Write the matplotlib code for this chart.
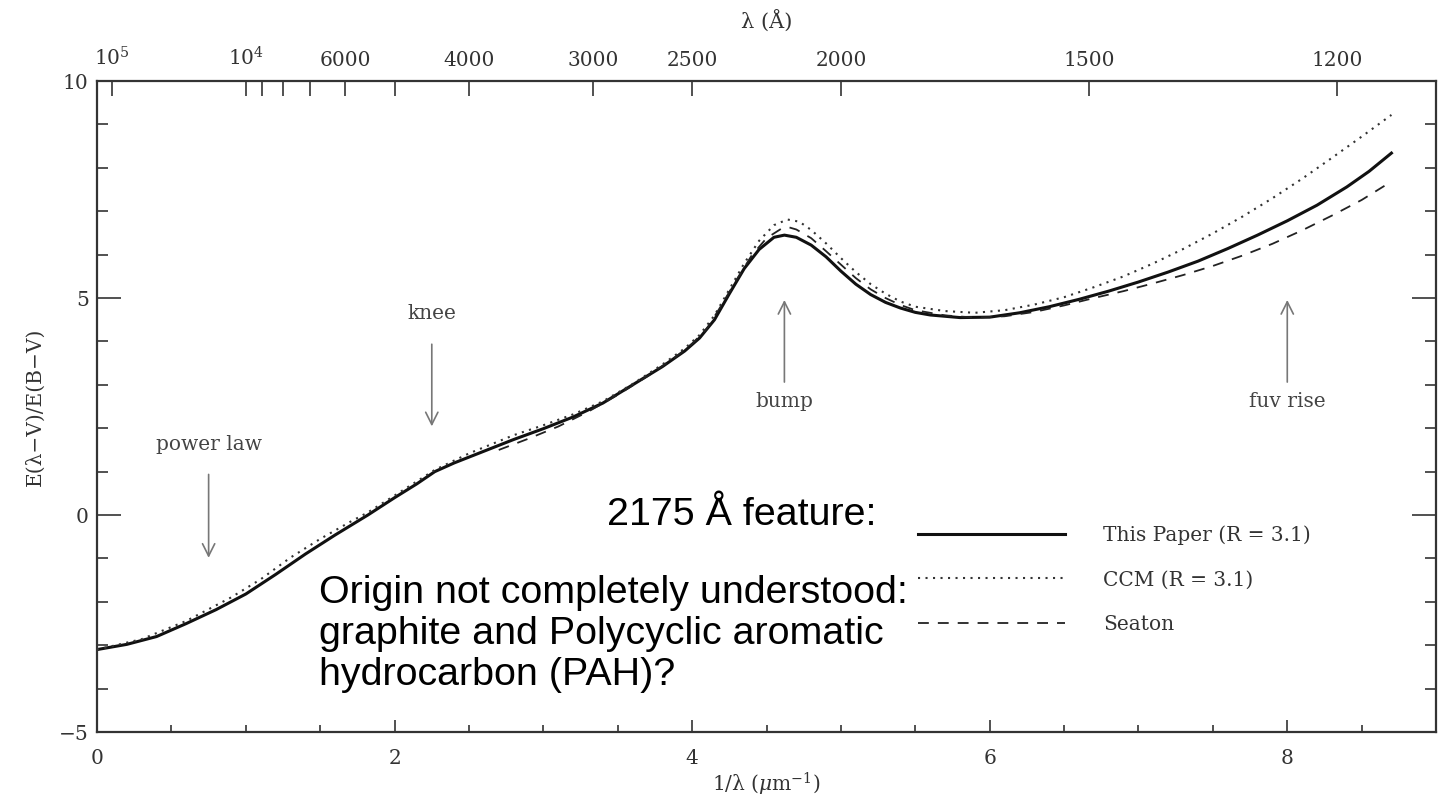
import matplotlib
matplotlib.use('Agg')
import matplotlib.pyplot as plt
import numpy as np

plt.rcParams['font.family'] = ['DejaVu Serif']
plt.rcParams['mathtext.fontset'] = 'dejavuserif'

# E(lambda-V)/E(B-V), x = 1/lambda (um^-1)
x_paper = [0.0, 0.2, 0.4, 0.6, 0.8, 1.0, 1.2, 1.4, 1.6, 1.82, 2.0, 2.15, 2.27,
           2.4, 2.6, 2.8, 3.0, 3.2, 3.4, 3.6, 3.8, 3.95, 4.05, 4.15, 4.25, 4.35,
           4.45, 4.55, 4.62, 4.7, 4.8, 4.9, 5.0, 5.1, 5.2, 5.3, 5.4, 5.5, 5.6,
           5.8, 6.0, 6.2, 6.4, 6.6, 6.8, 7.0, 7.2, 7.4, 7.6, 7.8, 8.0, 8.2,
           8.4, 8.55, 8.7]
y_paper = [-3.10, -2.98, -2.80, -2.50, -2.18, -1.82, -1.37, -0.90, -0.46, 0.0,
           0.40, 0.72, 1.0, 1.20, 1.47, 1.74, 1.99, 2.26, 2.58, 3.0, 3.42,
           3.78, 4.08, 4.50, 5.10, 5.68, 6.12, 6.40, 6.45, 6.40, 6.22, 5.95,
           5.62, 5.32, 5.08, 4.90, 4.77, 4.67, 4.61, 4.55, 4.56, 4.66, 4.80,
           4.97, 5.16, 5.37, 5.60, 5.85, 6.14, 6.45, 6.78, 7.14, 7.56, 7.92,
           8.34]

x_ccm = [0.0, 0.3, 0.6, 0.9, 1.1, 1.3, 1.5, 1.7, 1.82, 2.0, 2.27, 2.5, 2.8,
         3.0, 3.2, 3.4, 3.6, 3.8, 3.95, 4.05, 4.15, 4.25, 4.35, 4.45, 4.55,
         4.64, 4.72, 4.8, 4.9, 5.0, 5.1, 5.2, 5.3, 5.4, 5.5, 5.7, 5.9, 6.1,
         6.3, 6.5, 6.7, 6.9, 7.1, 7.3, 7.5, 7.7, 7.9, 8.1, 8.3, 8.5, 8.7]
y_ccm = [-3.10, -2.86, -2.44, -1.90, -1.48, -0.98, -0.55, -0.16, 0.06, 0.45,
         1.04, 1.42, 1.84, 2.07, 2.32, 2.62, 3.02, 3.47, 3.84, 4.15, 4.60,
         5.20, 5.80, 6.32, 6.68, 6.81, 6.76, 6.57, 6.26, 5.92, 5.60, 5.32,
         5.10, 4.92, 4.80, 4.70, 4.66, 4.72, 4.85, 5.02, 5.25, 5.50, 5.80,
         6.13, 6.49, 6.88, 7.30, 7.75, 8.23, 8.72, 9.22]

x_seaton = [2.7, 2.9, 3.1, 3.3, 3.5, 3.7, 3.9, 4.0, 4.1, 4.2, 4.3, 4.4, 4.5,
            4.6, 4.65, 4.7, 4.8, 4.9, 5.0, 5.1, 5.2, 5.3, 5.4, 5.5, 5.7, 5.9,
            6.1, 6.3, 6.5, 6.7, 6.9, 7.1, 7.3, 7.5, 7.7, 7.9, 8.1, 8.3, 8.5,
            8.66]
y_seaton = [1.50, 1.76, 2.04, 2.38, 2.77, 3.20, 3.67, 3.95, 4.30, 4.85, 5.43,
            5.98, 6.38, 6.60, 6.63, 6.58, 6.38, 6.08, 5.77, 5.46, 5.20, 5.00,
            4.84, 4.72, 4.60, 4.55, 4.58, 4.68, 4.83, 5.00, 5.16, 5.34, 5.53,
            5.74, 5.98, 6.25, 6.56, 6.90, 7.26, 7.60]

# top axis wavelengths (Angstrom)
lam_ticks = [1e5, 1e4, 9000, 8000, 7000, 6000, 5000, 4000, 3000, 2500, 2000, 1500, 1200]
lam_labels = [r'$10^5$', r'$10^4$', '', '', '', '6000', '', '4000', '3000', '2500',
              '2000', '1500', '1200']

# feature annotations: label, x, text y, arrow tail y, arrow head y
features = [('power law', 0.75, 1.62, 1.0, -1.05),
            ('knee', 2.25, 4.65, 4.0, 1.98),
            ('bump', 4.62, 2.62, 3.0, 5.02),
            ('fuv rise', 8.0, 2.62, 3.0, 5.02)]

grey = '#333333'

fig = plt.figure(figsize=(14.44, 8.01), dpi=100)
ax = fig.add_axes([0.0672, 0.0861, 0.9273, 0.8127])

l1, = ax.plot(x_paper, y_paper, color='#111111', lw=2.2, label='This Paper (R = 3.1)')
l2, = ax.plot(x_ccm, y_ccm, color='#333333', lw=1.5, ls=(0, (1, 2.6)), label='CCM (R = 3.1)')
l3, = ax.plot(x_seaton, y_seaton, color='#222222', lw=1.3, ls=(0, (6, 5)), label='Seaton')

ax.set_xlim(0, 9)
ax.set_ylim(-5, 10)
ax.set_xticks([0, 2, 4, 6, 8])
ax.set_xticks(np.arange(0, 9.01, 0.5), minor=True)
ax.set_yticks([-5, 0, 5, 10])
ax.set_yticklabels(['\u22125', '0', '5', '10'])
ax.set_yticks(np.arange(-5, 10.01, 1), minor=True)
ax.tick_params(axis='x', which='major', direction='in', length=9, width=1.2,
               color=grey, labelsize=14.5, labelcolor=grey, pad=12)
ax.tick_params(axis='x', which='minor', direction='in', length=5, width=1.2, color=grey)
ax.tick_params(axis='y', which='major', direction='in', length=17, width=1.2,
               color=grey, labelsize=14.5, labelcolor=grey, right=True, pad=6)
ax.tick_params(axis='y', which='minor', direction='in', length=8, width=1.2,
               color=grey, right=True)
for s in ax.spines.values():
    s.set_linewidth(1.6)
    s.set_color(grey)

ax.set_xlabel('1/\u03bb ($\\mu$m$^{-1}$)', fontsize=14.5, color=grey, labelpad=2)
ax.set_ylabel('E(\u03bb\u2212V)/E(B\u2212V)', fontsize=14.5, color=grey, labelpad=10)

ax2 = ax.twiny()
ax2.set_xlim(ax.get_xlim())
ax2.set_xticks([1e4 / l for l in lam_ticks])
ax2.set_xticklabels(lam_labels)
ax2.tick_params(axis='x', direction='in', length=11, width=1.2, color=grey,
                labelsize=14.5, labelcolor=grey, pad=8)
for s in ax2.spines.values():
    s.set_visible(False)
ax2.set_xlabel('\u03bb (Å)', fontsize=15, color=grey, labelpad=14)

for name, xf, yt, y0, y1 in features:
    ax.annotate('', xy=(xf, y1), xytext=(xf, y0),
                arrowprops=dict(arrowstyle='->', color='#777777', lw=1.2,
                                mutation_scale=22))
    ax.text(xf, yt, name, ha='center', va='center', fontsize=14.5, color='#444444')

ax.text(3.43, 0.0, '2175 Å feature:', fontsize=28.4, family='Liberation Sans',
        ha='left', va='center', color='black')
ax.text(1.49, -2.74, 'Origin not completely understood:\ngraphite and Polycyclic aromatic\nhydrocarbon (PAH)?',
        fontsize=28.4, family='Liberation Sans', ha='left', va='center',
        color='black', linespacing=1.17)

leg = ax.legend(handles=[l1, l2, l3], loc='upper left', bbox_to_anchor=(0.613, 0.318),
                frameon=False, handlelength=7.3, handletextpad=1.9,
                labelspacing=1.28, fontsize=14.5, borderpad=0, borderaxespad=0)
for t in leg.get_texts():
    t.set_color(grey)

fig.savefig('out.png', dpi=100)
